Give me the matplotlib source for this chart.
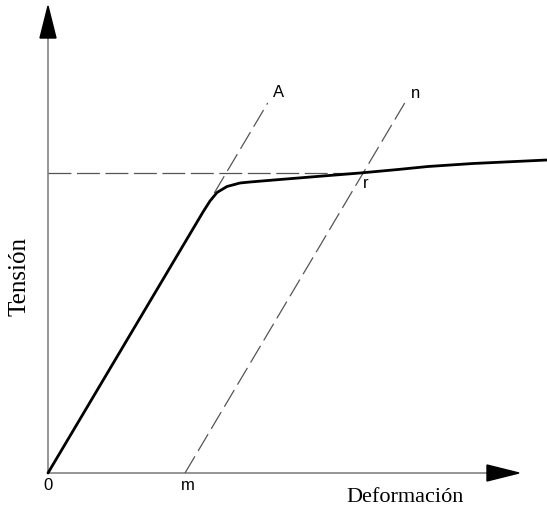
import matplotlib
matplotlib.use("Agg")
import matplotlib.pyplot as plt
from matplotlib.patches import Polygon

plt.rcParams['lines.scale_dashes'] = False

# Stress-strain curve (arbitrary units)
strain = [0.0, 3.10, 3.24, 3.38, 3.58, 3.84, 4.04, 4.64, 5.50, 6.24, 7.00, 7.60, 8.50, 9.98]
stress = [0.0, 5.22, 5.44, 5.61, 5.73, 5.80, 5.82, 5.87, 5.94, 6.00, 6.07, 6.13, 6.19, 6.26]

# Elastic modulus (slope of the linear part), offset strain and yield stress
modulus = 1.684
offset_m = 2.74
yield_stress = 6.0
line_top = 7.40          # stress where the parallel construction lines end
line_a_start = 5.60      # stress where the continuation of the elastic line starts

point_labels = ["0", "m", "A", "n", "r"]
x_label = "Deformación"
y_label = "Tensión"

fig = plt.figure(figsize=(5.47, 5.08), dpi=100)
ax = fig.add_axes([0, 0, 1, 1])
ax.set_xlim(-0.96, 9.98)
ax.set_ylim(-0.70, 9.46)
ax.axis('off')

axis_color = '#8c8c8c'
dash_color = '#555555'
dash_h = (0, (16.5, 4.0))
dash_d = (0, (14.0, 4.5))

# Axes with arrowheads
x_tip, y_tip = 9.42, 9.34
ax.plot([0, x_tip - 0.5], [0, 0], color=axis_color, lw=1.3, zorder=1)
ax.plot([0, 0], [0, y_tip - 0.5], color=axis_color, lw=1.3, zorder=1)
ax.add_patch(Polygon([[x_tip, 0], [x_tip - 0.64, 0.16], [x_tip - 0.64, -0.16]],
                     closed=True, color='black', zorder=3))
ax.add_patch(Polygon([[0, y_tip], [-0.16, y_tip - 0.64], [0.16, y_tip - 0.64]],
                     closed=True, color='black', zorder=3))

# Horizontal line at the yield stress
r_x = offset_m + yield_stress / modulus
ax.plot([0, r_x], [yield_stress, yield_stress], color=dash_color, lw=0.9,
        linestyle=dash_h, zorder=2)

# Continuation of the elastic line (0A)
ax.plot([line_a_start / modulus, line_top / modulus], [line_a_start, line_top],
        color=dash_color, lw=0.9, linestyle=dash_d, zorder=2)

# Parallel line through the offset point m (mn)
ax.plot([offset_m, offset_m + line_top / modulus], [0, line_top],
        color=dash_color, lw=0.9, linestyle=dash_d, zorder=2)

# Stress-strain curve
ax.plot(strain, stress, color='black', lw=2.0, solid_capstyle='round',
        solid_joinstyle='round', zorder=4)

# Point labels
lab_kw = dict(family='Liberation Sans', fontsize=12, color='black')
ax.text(0, -0.10, point_labels[0], ha='center', va='top', **lab_kw)
ax.text(offset_m + 0.06, -0.10, point_labels[1], ha='center', va='top', **lab_kw)
ax.text(line_top / modulus + 0.10, line_top + 0.06, point_labels[2],
        ha='left', va='bottom', **lab_kw)
ax.text(offset_m + line_top / modulus + 0.13, line_top + 0.04, point_labels[3],
        ha='left', va='bottom', **lab_kw)
ax.text(r_x - 0.01, yield_stress - 0.06, point_labels[4], ha='left', va='top', **lab_kw)

# Axis titles
ax.text(7.15, -0.57, x_label, family='Liberation Serif', fontsize=16,
        ha='center', va='baseline')
ax.text(-0.56, 3.92, y_label, family='Liberation Serif', fontsize=18,
        ha='center', va='center', rotation=90)

fig.savefig('out.png', dpi=100)
